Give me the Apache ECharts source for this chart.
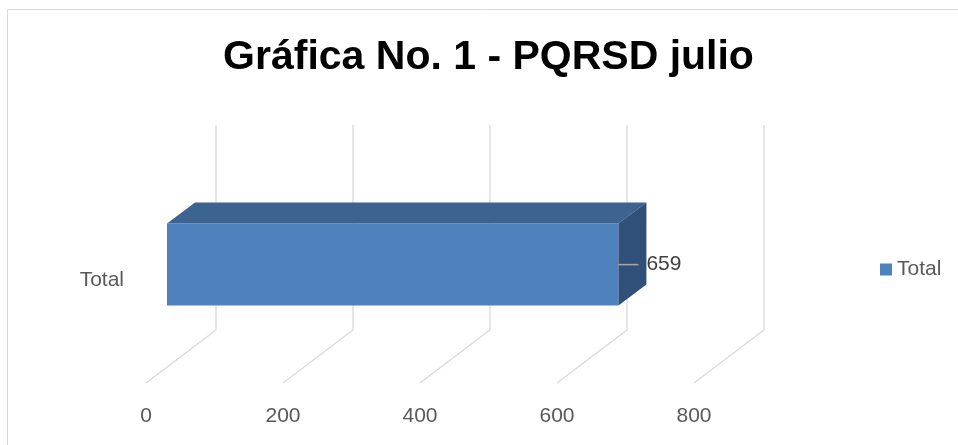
<!DOCTYPE html>
<html>
<head>
<meta charset="utf-8">
<script src="https://cdn.jsdelivr.net/npm/echarts@6/dist/echarts.min.js"></script>
<style>
html,body{margin:0;padding:0;background:#fff;}
#main{width:958px;height:445px;}
</style>
</head>
<body>
<div id="main"></div>
<script>
const titleText = 'Gráfica No. 1 - PQRSD julio';
const categories = ['Total'];
const seriesName = 'Total';
const values = [659];
const tickValues = [0, 200, 400, 600, 800];

const DEPTH = [70, -53];
const FRONT = 0.3, BACK = 0.7;
const FONT = 'Liberation Sans';

const chart = echarts.init(document.getElementById('main'), null, {renderer: 'canvas'});

function gridRender(params, api) {
  const cs = params.coordSys;
  const x = api.coord([api.value(0), categories[0]])[0];
  const yb = cs.y + cs.height;
  return {
    type: 'polyline',
    shape: {points: [[x, yb], [x + DEPTH[0], yb + DEPTH[1]], [x + DEPTH[0], cs.y + DEPTH[1]]]},
    style: {stroke: '#D9D9D9', lineWidth: 1.3, fill: null},
    silent: true
  };
}

function barRender(params, api) {
  const v = api.value(0);
  const c = api.value(1);
  const p0 = api.coord([0, c]);
  const p1 = api.coord([v, c]);
  const h = api.size([0, 1])[1] * 0.4;
  const fx = FRONT * DEPTH[0], fy = FRONT * DEPTH[1];
  const bx = BACK * DEPTH[0], by = BACK * DEPTH[1];
  const L = p0[0] + fx, R = p1[0] + fx, T = p0[1] - h / 2 + fy, B = p0[1] + h / 2 + fy;
  const dx = bx - fx, dy = by - fy;
  const midY = (T + B) / 2;
  return {
    type: 'group',
    children: [
      {type: 'rect', shape: {x: L, y: T, width: R - L, height: B - T}, style: {fill: '#4F81BD'}},
      {type: 'polygon', shape: {points: [[L, T], [R, T], [R + dx, T + dy], [L + dx, T + dy]]}, style: {fill: '#3D6391'}},
      {type: 'polygon', shape: {points: [[R, T], [R + dx, T + dy], [R + dx, B + dy], [R, B]]}, style: {fill: '#30507A'}},
      {type: 'line', shape: {x1: R, y1: midY, x2: R + 20, y2: midY}, style: {stroke: '#A6A6A6', lineWidth: 1.5}},
      {type: 'text', x: R + 28, y: midY, style: {text: String(v), fill: '#404040', font: '21px "' + FONT + '"', textAlign: 'left', textVerticalAlign: 'middle'}}
    ]
  };
}

chart.setOption({
  animation: false,
  backgroundColor: '#fff',
  textStyle: {fontFamily: FONT},
  graphic: [
    {type: 'rect', left: 5, top: 7, shape: {width: 960, height: 445}, style: {fill: null, stroke: '#D9D9D9', lineWidth: 1}, silent: true, z: -10},
    {type: 'text', x: 488.5, y: 58, style: {text: titleText, fill: '#000', font: 'bold 41px "' + FONT + '"', textAlign: 'center', textVerticalAlign: 'middle'}}
  ],
  legend: {
    data: [seriesName],
    left: 875, top: 254,
    icon: 'rect', itemWidth: 12, itemHeight: 12, itemGap: 6,
    textStyle: {fontSize: 21, color: '#595959', fontFamily: FONT}
  },
  grid: {left: 146, top: 178, width: 548, height: 205, containLabel: false},
  xAxis: {
    type: 'value', min: 0, max: 800, interval: 200,
    axisLine: {show: false}, axisTick: {show: false}, splitLine: {show: false},
    axisLabel: {color: '#595959', fontSize: 21, margin: 23, fontFamily: FONT}
  },
  yAxis: {
    type: 'category', data: categories,
    axisLine: {show: false}, axisTick: {show: false}, splitLine: {show: false},
    axisLabel: {color: '#595959', fontSize: 21, margin: 22, fontFamily: FONT}
  },
  series: [
    {
      type: 'custom', name: 'grid', renderItem: gridRender, silent: true, z: 1,
      data: tickValues.map(t => [t, 0]), encode: {x: 0, y: 1}
    },
    {
      type: 'custom', name: seriesName, renderItem: barRender, z: 2,
      itemStyle: {color: '#4F81BD'},
      data: values.map((v, i) => [v, i]), encode: {x: 0, y: 1}
    }
  ]
});
</script>
</body>
</html>
